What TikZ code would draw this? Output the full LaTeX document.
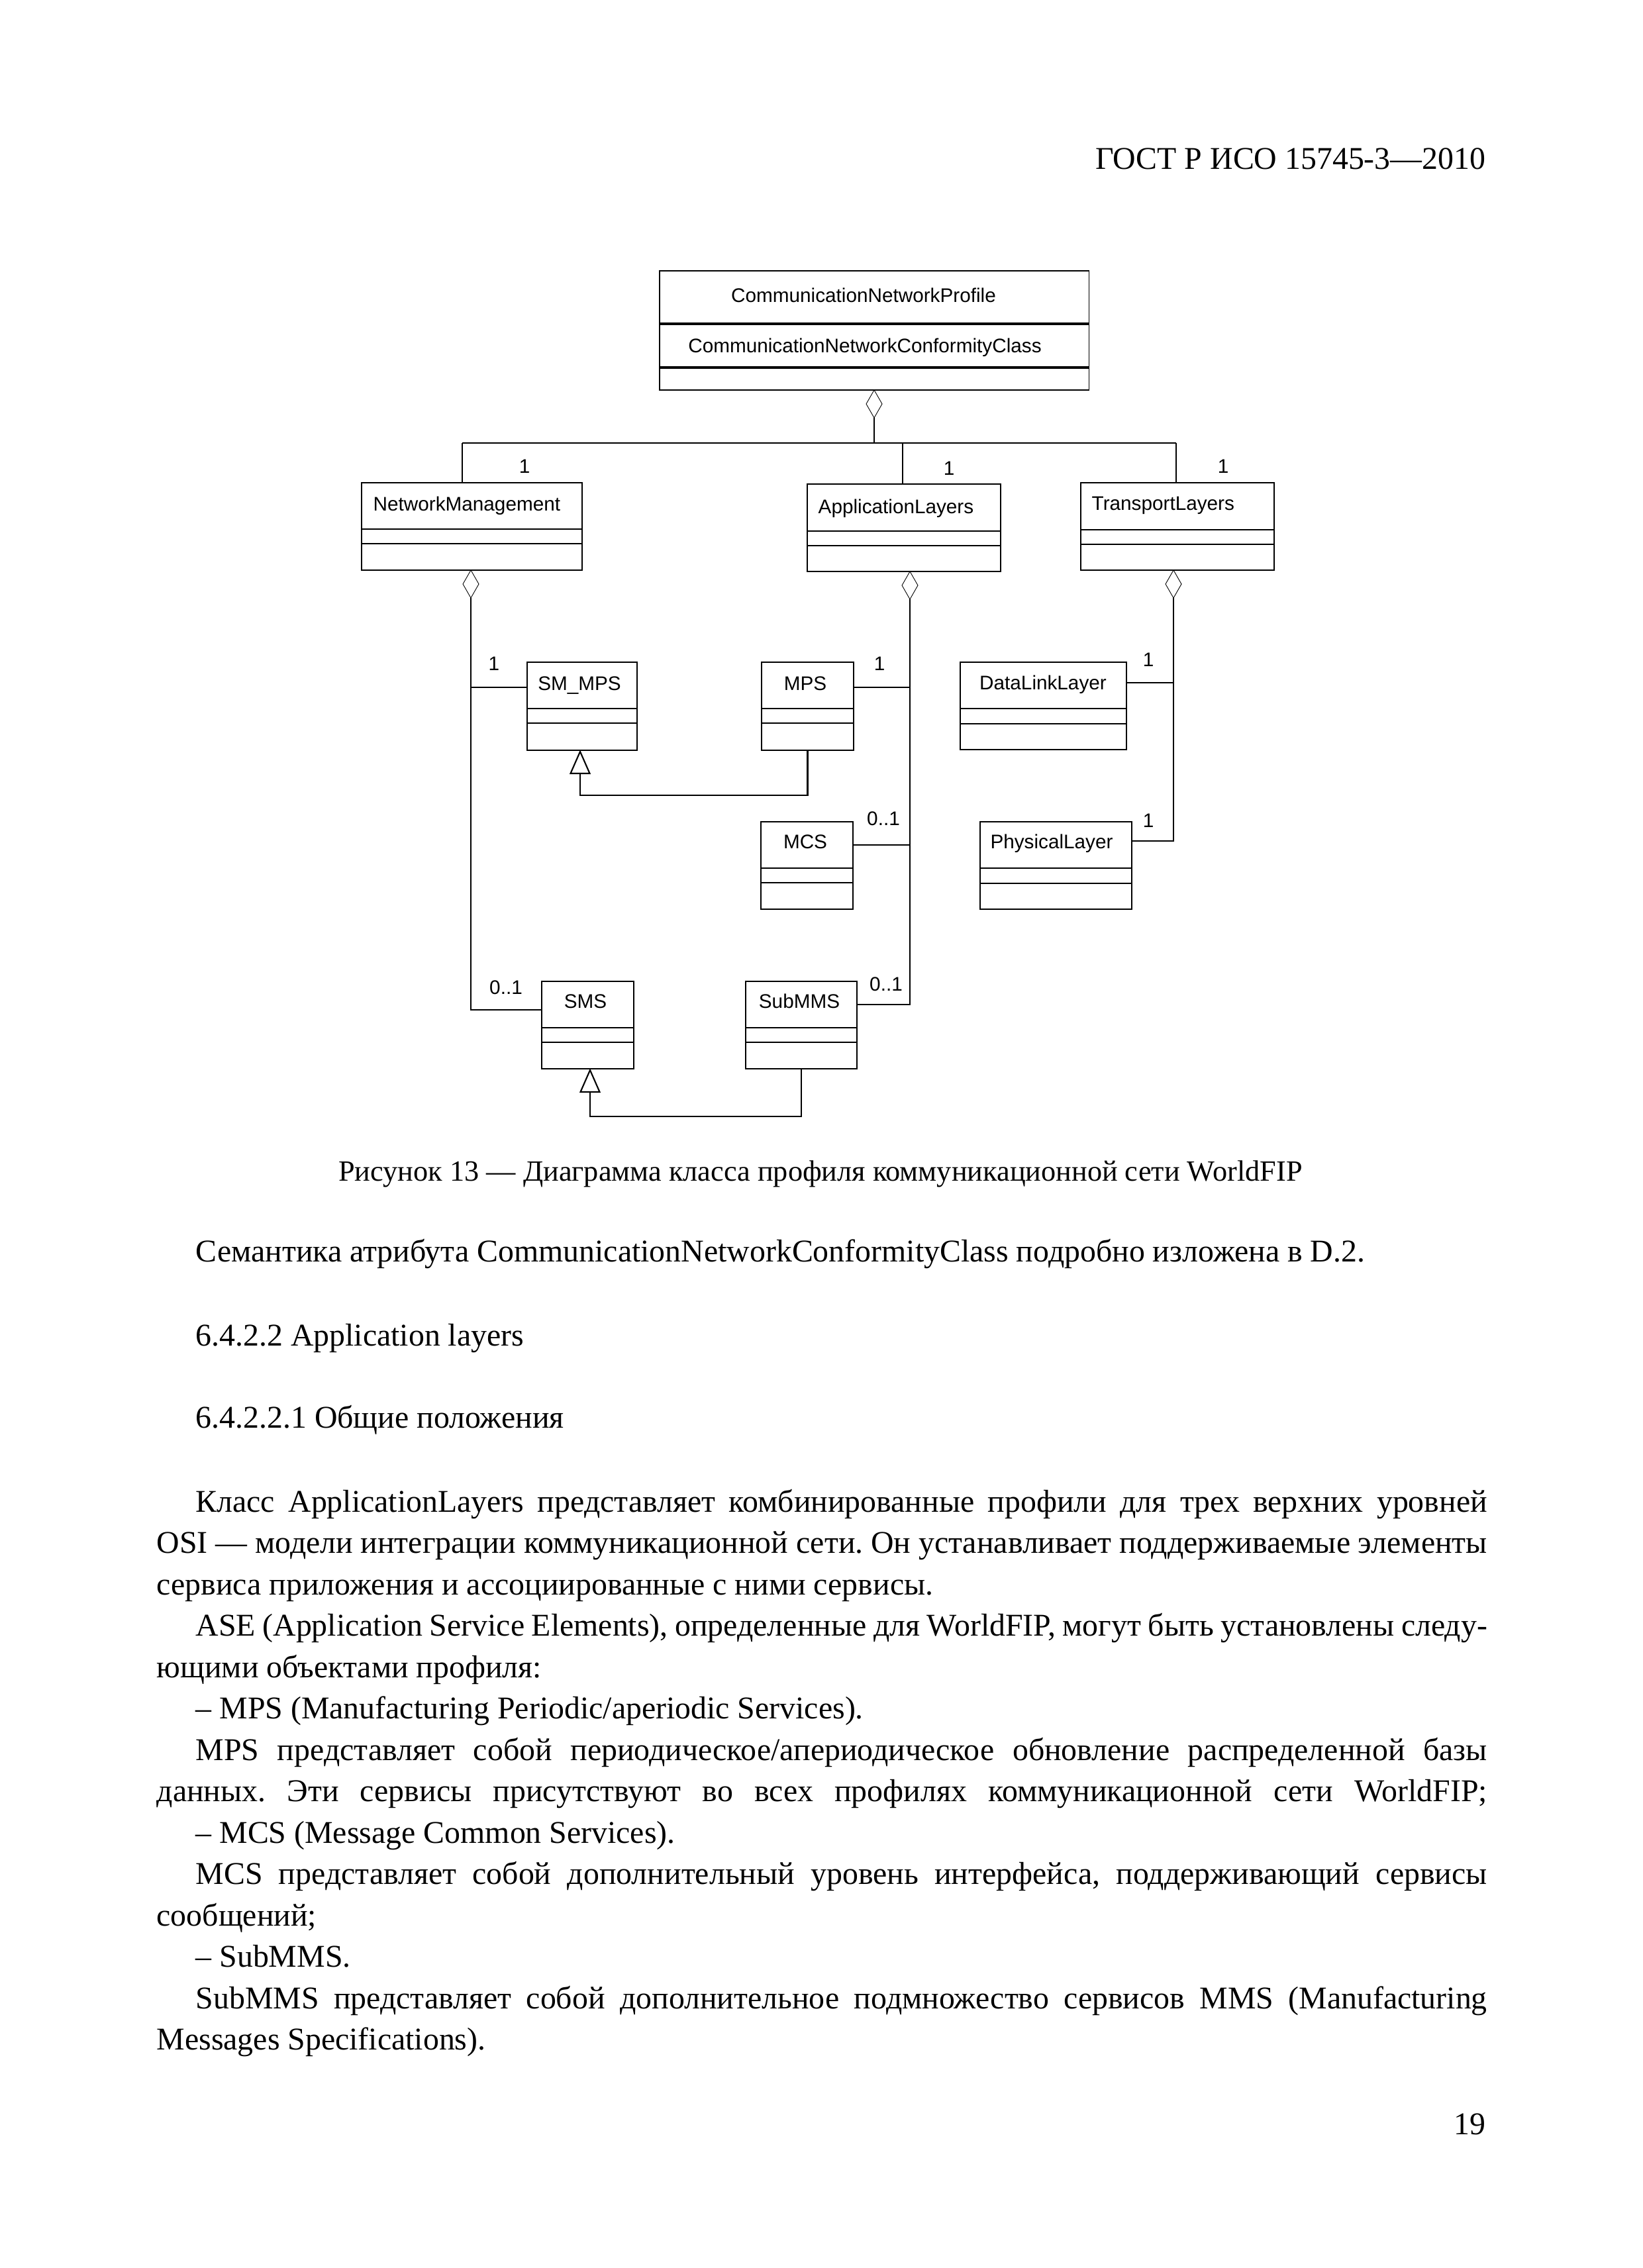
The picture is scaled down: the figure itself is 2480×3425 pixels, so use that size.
\documentclass[tikz,border=0pt]{standalone}
\usepackage{fontspec}
\setmainfont{Liberation Serif}
\newfontfamily\dfont{Liberation Sans}
\usetikzlibrary{fit}
\frenchspacing
\newcommand\bodysize{\fontsize{13.6}{16}\selectfont}
\newcommand\capsize{\fontsize{12.6}{15}\selectfont}
\newcommand\dsize{\dfont\fontsize{8.45}{10}\selectfont}
\newcommand\jfull[1]{\makebox[20.08cm][s]{#1}}
\newcommand\jind[1]{\makebox[19.49cm][s]{#1}}
\tikzset{
  clsbox/.style={draw, line width=0.6pt, inner sep=0pt},
  divider/.style={line width=0.6pt},
  conn/.style={line width=0.6pt},
  agg/.style={line width=0.25pt, fill=white},
  gen/.style={line width=0.6pt, fill=white},
  dtext/.style={font=\dsize, inner sep=0pt, anchor=base},
  btext/.style={font=\bodysize, inner sep=0pt, anchor=base west},
}
% name x1 y1 x2 y2 d1 d2
\newcommand\umlclass[7]{%
  \node[clsbox, fit={(#2,#3)(#4,#5)}] (#1) {};
  \draw[divider] (#2,#6) -- (#4,#6);
  \draw[divider] (#2,#7) -- (#4,#7);
}
% name x ytop
\newcommand\aggd[3]{%
  \draw[agg] (#2,#3) -- ++(12,21) -- ++(-12,21) -- ++(-12,-21) -- cycle;
  \coordinate (#1) at (#2,#3+42);
}
% name x yapex
\newcommand\gentri[3]{%
  \draw[gen] (#2,#3) -- ++(14.5,33) -- ++(-29,0) -- cycle;
  \coordinate (#1) at (#2,#3+33);
}
\begin{document}
\begin{tikzpicture}[x=0.01cm, y=-0.01cm]
\fill[white] (0,0) rectangle (2480,3425);

% header
\node[font=\bodysize, inner sep=0pt, anchor=base east] (hdr) at (2244,256) {ГОСТ Р ИСО 15745-3—2010};

% ===== diagram =====
\node[draw, line width=0.3pt, inner sep=0pt, fit={(996,409)(1644,589)}] (cnp) {};
\draw[line width=0.9pt] (996,489) -- (1644,489);
\draw[line width=0.9pt] (996,555) -- (1644,555);
\node[dtext] (cnpt) at (1304,457) {CommunicationNetworkProfile};
\node[dtext] (cnpa) at (1306,533) {CommunicationNetworkConformityClass};

\umlclass{NM}{546}{729}{879}{861}{799}{821}
\umlclass{AL}{1219}{731}{1511}{863}{802}{824}
\umlclass{TL}{1632}{729}{1924}{861}{800}{822}
\umlclass{SMMPS}{796}{1000}{962}{1133}{1070}{1092}
\umlclass{MPS}{1150}{1000}{1289}{1133}{1070}{1092}
\umlclass{DLL}{1450}{1000}{1701}{1132}{1070}{1093}
\umlclass{PL}{1480}{1241}{1709}{1373}{1311}{1334}
\umlclass{MCS}{1149}{1241}{1288}{1373}{1311}{1333}
\umlclass{SMS}{818}{1482}{957}{1614}{1552}{1574}
\umlclass{SubMMS}{1126}{1482}{1294}{1614}{1552}{1574}

\node[dtext, anchor=base west] (NMt) at (563,772) {NetworkManagement};
\node[dtext, anchor=base west] (ALt) at (1235,776) {ApplicationLayers};
\node[dtext, anchor=base west] (TLt) at (1648,771) {TransportLayers};
\node[dtext] (SMMPSt) at (875,1042) {SM\_MPS};
\node[dtext] (MPSt) at (1216,1042) {MPS};
\node[dtext] (DLLt) at (1575,1041) {DataLinkLayer};
\node[dtext] (PLt) at (1588,1281) {PhysicalLayer};
\node[dtext] (MCSt) at (1216,1281) {MCS};
\node[dtext] (SMSt) at (884,1522) {SMS};
\node[dtext] (SubMMSt) at (1207,1522) {SubMMS};

% multiplicities
\node[dtext] (m1) at (792,715) {1};
\node[dtext] (m2) at (1433,718) {1};
\node[dtext] (m3) at (1847,715) {1};
\node[dtext] (m4) at (746,1012) {1};
\node[dtext] (m5) at (1328,1012) {1};
\node[dtext] (m6) at (1734,1006) {1};
\node[dtext] (m7) at (1734,1249) {1};
\node[dtext] (m8) at (1334,1246) {0..1};
\node[dtext] (m9) at (764,1501) {0..1};
\node[dtext] (m10) at (1338,1496) {0..1};

% top aggregation
\aggd{dtop}{1320}{589}
\coordinate (jt) at (1320,669);
\coordinate (barL) at (698,669);
\coordinate (barR) at (1776,669);
\coordinate (alJ) at (1363,669);
\draw[conn] (dtop) -- (jt);
\draw[conn] (barL) -- (barR);
\draw[conn] (barL) -- (barL |- NM.north);
\draw[conn] (alJ) -- (alJ |- AL.north);
\draw[conn] (barR) -- (barR |- TL.north);

% NetworkManagement aggregation
\aggd{nmd}{711}{861}
\coordinate (nmE) at (711,1525);
\coordinate (nmB) at (711,1038);
\draw[conn] (nmd) -- (nmE) -- (nmE -| SMS.west);
\draw[conn] (nmB) -- (nmB -| SMMPS.west);

% ApplicationLayers aggregation
\aggd{ald}{1374}{863}
\coordinate (alE) at (1374,1517);
\coordinate (alB1) at (1374,1038);
\coordinate (alB2) at (1374,1276);
\draw[conn] (ald) -- (alE) -- (alE -| SubMMS.east);
\draw[conn] (alB1) -- (alB1 -| MPS.east);
\draw[conn] (alB2) -- (alB2 -| MCS.east);

% TransportLayers aggregation
\aggd{tld}{1772}{861}
\coordinate (tlE) at (1772,1270);
\coordinate (tlB) at (1772,1031);
\draw[conn] (tld) -- (tlE) -- (tlE -| PL.east);
\draw[conn] (tlB) -- (tlB -| DLL.east);

% generalizations
\gentri{g1b}{876}{1135}
\coordinate (g1k) at (876,1201);
\draw[conn] (MPS.south) |- (g1k) -- (g1b);
\gentri{g2b}{891}{1616}
\coordinate (g2k) at (891,1686);
\draw[conn] (SubMMS.south) |- (g2k) -- (g2b);

% caption
\node[font=\capsize, inner sep=0pt, anchor=base] (cap) at (1239,1783) {Рисунок 13 — Диаграмма класса профиля коммуникационной сети WorldFIP};

% ===== body text =====
\node[btext] (t1) at (295,1905) {Семантика атрибута CommunicationNetworkConformityClass подробно изложена в D.2.};
\node[btext] (t2) at (295,2032) {6.4.2.2 Application layers};
\node[btext] (t3) at (295,2156) {6.4.2.2.1 Общие положения};

\node[btext] (l1) at (295,2283) {\jind{Класс ApplicationLayers представляет комбинированные профили для трех верхних уровней}};
\node[btext] (l2) at (236,2345.5) {\jfull{OSI — модели интеграции коммуникационной сети. Он устанавливает поддерживаемые элементы}};
\node[btext] (l3) at (236,2408) {сервиса приложения и ассоциированные с ними сервисы.};
\node[btext] (l4) at (295,2470.5) {\jind{ASE (Application Service Elements), определенные для WorldFIP, могут быть установлены следу-}};
\node[btext] (l5) at (236,2533) {ющими объектами профиля:};
\node[btext] (l6) at (295,2595.5) {– MPS (Manufacturing Periodic/aperiodic Services).};
\node[btext] (l7) at (295,2658) {\jind{MPS представляет собой периодическое/апериодическое обновление распределенной базы}};
\node[btext] (l8) at (236,2720.5) {\jfull{данных. Эти сервисы присутствуют во всех профилях коммуникационной сети WorldFIP;}};
\node[btext] (l9) at (295,2783) {– MCS (Message Common Services).};
\node[btext] (l10) at (295,2845.5) {\jind{MCS представляет собой дополнительный уровень интерфейса, поддерживающий сервисы}};
\node[btext] (l11) at (236,2908) {сообщений;};
\node[btext] (l12) at (295,2970.5) {– SubMMS.};
\node[btext] (l13) at (295,3033) {\jind{SubMMS представляет собой дополнительное подмножество сервисов MMS (Manufacturing}};
\node[btext] (l14) at (236,3095.5) {Messages Specifications).};

\node[font=\bodysize, inner sep=0pt, anchor=base east] (pg) at (2244,3223) {19};
\end{tikzpicture}
\end{document}
